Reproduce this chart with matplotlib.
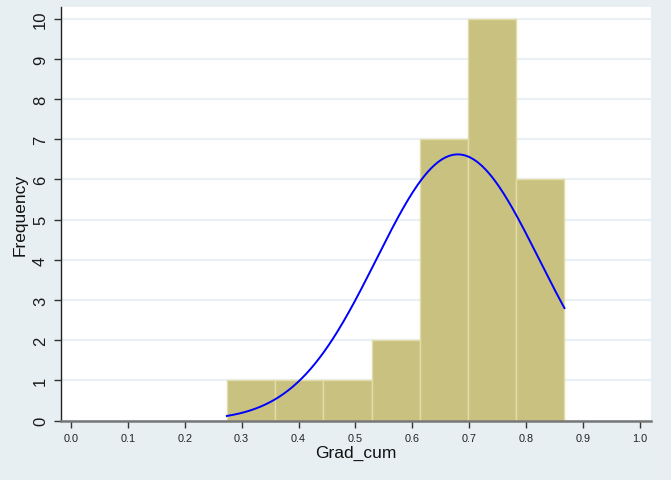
import numpy as np
import matplotlib
matplotlib.use("Agg")
import matplotlib.pyplot as plt

plt.rcParams["font.family"] = ["Liberation Sans", "DejaVu Sans"]

# Histogram of Grad_cum: bin edges and counts
bin_start = 0.274
bin_width = 0.0848
counts = [1, 1, 1, 2, 7, 10, 6]

# Normal density overlay parameters
mean_val = 0.68
sd_val = 0.143

x_ticks = [0.0, 0.1, 0.2, 0.3, 0.4, 0.5, 0.6, 0.7, 0.8, 0.9, 1.0]
y_ticks = list(range(0, 11))

bg = "#e8eff2"
bar_color = "#c9c17f"
bar_edge = "#e2dca8"

fig = plt.figure(figsize=(6.71, 4.81), dpi=100, facecolor=bg)
ax = fig.add_axes([60.5 / 671, 1 - 421.7 / 481, (650.5 - 60.5) / 671, (421.7 - 8) / 481])
ax.set_facecolor("white")

edges = bin_start + bin_width * np.arange(len(counts) + 1)
ax.bar(edges[:-1], counts, width=bin_width, align="edge",
       color=bar_color, edgecolor=bar_edge, linewidth=1.0, zorder=2)

# Fitted normal curve scaled to frequency
n_total = sum(counts)
xs = np.linspace(edges[0], edges[-1], 300)
dens = np.exp(-0.5 * ((xs - mean_val) / sd_val) ** 2) / (sd_val * np.sqrt(2 * np.pi))
ax.plot(xs, n_total * bin_width * dens, color="#0000ff", linewidth=1.4, zorder=3)

ax.set_xlim(-0.0185, 1.0189)
ax.set_ylim(0, 10.29)

ax.set_yticks(y_ticks)
ax.set_yticklabels([str(v) for v in y_ticks], rotation=90, va="center",
                   fontsize=12, color="#1a1a1a")
ax.set_xticks(x_ticks)
ax.set_xticklabels([f"{v:.1f}" for v in x_ticks], fontsize=7.8, color="#222222")

ax.grid(axis="y", color="#eaf0f3", linewidth=1.6, zorder=1)
ax.set_axisbelow(True)

for s in ["top", "right"]:
    ax.spines[s].set_visible(False)
ax.spines["left"].set_color("#222222")
ax.spines["left"].set_linewidth(1.0)
ax.spines["bottom"].set_color("#777777")
ax.spines["bottom"].set_linewidth(1.8)

ax.tick_params(axis="both", length=5, width=1.0, color="#333333")
ax.tick_params(axis="y", pad=4)
ax.tick_params(axis="x", pad=4)

ax.set_xlabel("Grad_cum", fontsize=12.5, color="#111111", labelpad=1)
ax.set_ylabel("Frequency", fontsize=12.5, color="#111111", labelpad=4)

fig.savefig("out.png", dpi=100, facecolor=bg)
